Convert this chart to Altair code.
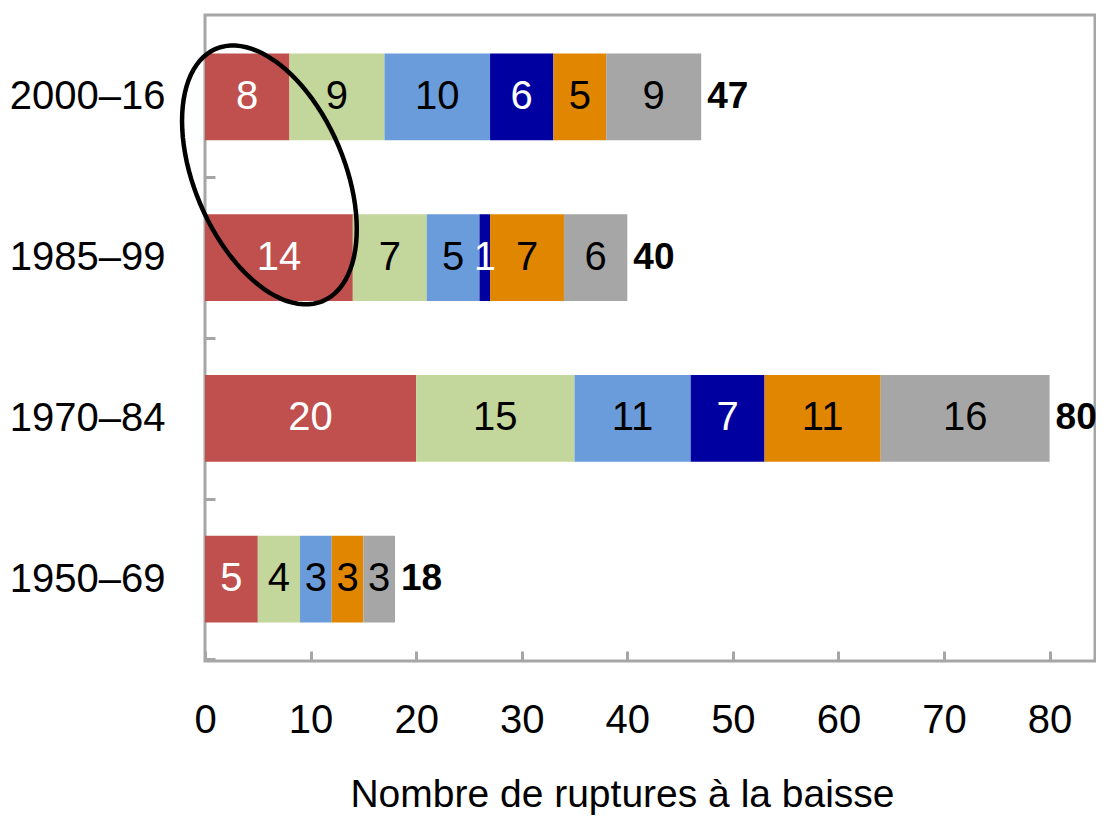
import altair as alt
import pandas as pd
import numpy as np

# ---- data ----
periods = ["2000–16", "1985–99", "1970–84", "1950–69"]
series = ["S1", "S2", "S3", "S4", "S5", "S6"]
v_s1 = [8, 14, 20, 5]
v_s2 = [9, 7, 15, 4]
v_s3 = [10, 5, 11, 3]
v_s4 = [6, 1, 7, 0]
v_s5 = [5, 7, 11, 3]
v_s6 = [9, 6, 16, 3]
totals = [47, 40, 80, 18]
x_ticks = [0, 10, 20, 30, 40, 50, 60, 70, 80]
x_title = "Nombre de ruptures à la baisse"
circled_period = "2000–16"
circled_x = 6.1

# ---- styles ----
colors = ["#C0504D", "#C3D69B", "#6A9BDB", "#0000A0", "#E18600", "#A6A6A6"]
white_label_series = ["S1", "S4"]
FONT = "Liberation Sans, Arial, sans-serif"
FRAME = "#A6A6A6"

rows = []
for si, (name, vals) in enumerate(zip(series, [v_s1, v_s2, v_s3, v_s4, v_s5, v_s6])):
    for p, v in zip(periods, vals):
        rows.append({"period": p, "series": name, "order": si, "value": v})
df = pd.DataFrame(rows)
tot_df = pd.DataFrame({"period": periods, "total": totals})
ell_df = pd.DataFrame({"period": [circled_period], "x": [circled_x]})

# ellipse outline path (unit box), rotated
theta = np.deg2rad(23)
a, b = 1.0, 75 / 137
t = np.linspace(0, 2 * np.pi, 97)[:-1]
ux, uy = np.sin(theta), np.cos(theta)
vx, vy = np.cos(theta), -np.sin(theta)
px = a * np.cos(t) * ux + b * np.sin(t) * vx
py = a * np.cos(t) * uy + b * np.sin(t) * vy
ell_path = "M" + " L".join(f"{x:.4f},{y:.4f}" for x, y in zip(px, py)) + " Z"

W, H = 890, 646
xscale = alt.Scale(domain=[0, 84.3], nice=False, zero=True)
yscale = alt.Scale(paddingInner=0.46, paddingOuter=0.24)
step = H / (4 - 0.46 + 2 * 0.24)

x_axis = alt.Axis(
    values=x_ticks, grid=False, domain=False, ticks=True, tickSize=10, tickWidth=3,
    tickColor=FRAME, offset=-10, labelFont=FONT, labelFontSize=40, labelColor="black",
    labelPadding=39, labelFlush=False, labelOverlap=False,
    title=x_title, titleFont=FONT, titleFontSize=39,
    titleFontWeight="normal", titleColor="black", titleX=417, titleY=155,
    titleBaseline="alphabetic", titleAlign="center",
)
y_axis = alt.Axis(
    grid=False, domain=False, ticks=True, tickSize=10, tickWidth=3, tickColor=FRAME,
    tickOffset=step / 2, labelOffset=-step / 2, offset=-10, labelFont=FONT,
    labelFontSize=40, labelColor="black", labelPadding=40, labelLimit=0, title=None,
)

Y = alt.Y("period:N", sort=periods, scale=yscale, axis=y_axis)

bars = alt.Chart(df).mark_bar().encode(
    x=alt.X("value:Q", stack="zero", scale=xscale, axis=x_axis),
    y=Y,
    color=alt.Color("series:N", scale=alt.Scale(domain=series, range=colors), legend=None),
    order=alt.Order("order:Q"),
)

labels = (
    alt.Chart(df)
    .transform_filter("datum.value > 0")
    .transform_stack(stack="value", groupby=["period"], as_=["v0", "v1"],
                     sort=[alt.SortField("order", order="ascending")])
    .transform_calculate(mid="(datum.v0 + datum.v1) / 2")
    .mark_text(font=FONT, fontSize=40, baseline="middle", align="center")
    .encode(
        x=alt.X("mid:Q", scale=xscale),
        y=alt.Y("period:N", sort=periods),
        text="value:Q",
        color=alt.condition(
            alt.FieldOneOfPredicate(field="series", oneOf=white_label_series),
            alt.value("white"), alt.value("black"),
        ),
    )
)

tot = alt.Chart(tot_df).mark_text(
    font=FONT, fontSize=37, fontWeight="bold", align="left", baseline="middle", dx=6,
    color="black",
).encode(
    x=alt.X("total:Q", scale=xscale),
    y=alt.Y("period:N", sort=periods),
    text="total:Q",
)

ellipse = alt.Chart(ell_df).mark_point(
    shape=ell_path, size=75076, filled=False, stroke="black", strokeWidth=4.5,
    opacity=1, yOffset=78,
).encode(
    x=alt.X("x:Q", scale=xscale),
    y=alt.Y("period:N", sort=periods),
)

chart = (
    alt.layer(bars, labels, tot, ellipse)
    .properties(
        width=W, height=H,
        autosize=alt.AutoSizeParams(type="none"),
        padding={"left": 197, "top": 7, "right": 1, "bottom": 154},
    )
    .configure_view(stroke=FRAME, strokeWidth=3)
)

chart.save("out.html", embed_options={"renderer": "svg", "actions": False})
